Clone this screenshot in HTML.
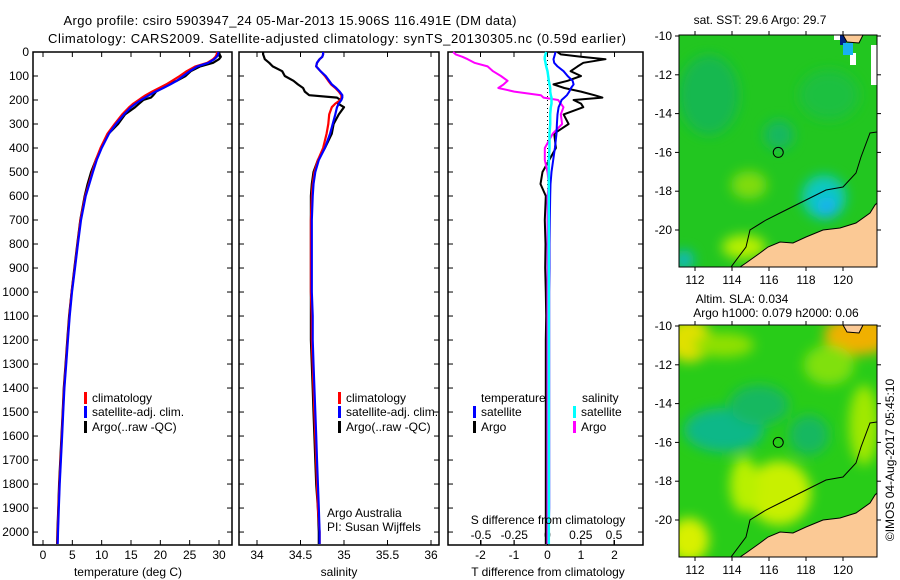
<!DOCTYPE html>
<html><head><meta charset="utf-8"><style>
html,body{margin:0;padding:0;background:#fff;}
svg{display:block;font-family:"Liberation Sans",sans-serif;}
</style></head><body>
<svg id="fig" width="900" height="580" viewBox="0 0 900 580">
<defs>
<filter id="blur1" x="-20%" y="-20%" width="140%" height="140%"><feGaussianBlur stdDeviation="6"/></filter>
<clipPath id="clipM1"><rect x="0" y="0" width="198" height="232"/></clipPath>
</defs>
<text x="290" y="25" font-size="13" text-anchor="middle" textLength="453">Argo profile: csiro 5903947_24 05-Mar-2013 15.906S 116.491E (DM data)</text>
<text x="337" y="43" font-size="13" text-anchor="middle" textLength="578">Climatology: CARS2009. Satellite-adjusted climatology: synTS_20130305.nc (0.59d earlier)</text>
<g id="p1"></g>
<g id="p2"></g>
<g id="p3"></g>
<g id="m1" transform="translate(679,35)"></g>
<g id="m2" transform="translate(679,325)"></g>
<text x="760" y="24" font-size="12" text-anchor="middle">sat. SST: 29.6 Argo: 29.7</text>
<text x="742" y="303" font-size="12" text-anchor="middle">Altim. SLA: 0.034</text>
<text x="776" y="317" font-size="12" text-anchor="middle">Argo h1000: 0.079 h2000: 0.06</text>
<text transform="translate(894,460) rotate(-90)" font-size="12" text-anchor="middle">©IMOS 04-Aug-2017 05:45:10</text>
</svg>
<script>
const depth=[0,10,20,30,45,60,80,100,120,135,150,165,180,190,200,215,230,260,300,340,400,450,500,550,600,700,800,900,1000,1100,1200,1300,1400,1500,1600,1700,1800,1900,2000,2050];
const tempClim=[29.7,29.6,29.4,29.0,28.0,26.0,24.5,23.3,22.0,21.0,19.8,18.6,17.5,16.9,16.3,15.4,14.7,13.5,12.2,11.0,9.8,9.0,8.4,7.8,7.2,6.4,5.9,5.4,4.9,4.5,4.2,3.9,3.6,3.4,3.2,3.0,2.8,2.65,2.5,2.45];
const tempSat=[29.9,29.85,29.6,29.2,28.2,26.3,25.0,23.9,22.8,21.7,20.5,19.2,18.1,17.4,16.7,15.8,15.0,13.8,12.45,11.25,10.0,9.15,8.5,7.9,7.28,6.47,5.95,5.45,4.95,4.55,4.25,3.95,3.65,3.45,3.25,3.05,2.85,2.7,2.55,2.5];
const tempArgo=[30.0,30.1,30.3,30.0,29.0,26.8,25.2,24.3,22.8,21.2,20.4,19.3,18.8,18.4,17.1,16.4,15.7,14.0,12.8,11.2,9.9,9.0,8.2,7.6,7.1,6.35,5.85,5.35,4.88,4.45,4.15,3.85,3.55,3.35,3.15,2.95,2.75,2.6,2.45,2.4];
const salClim=[34.76,34.76,34.75,34.72,34.69,34.68,34.73,34.78,34.82,34.85,34.9,34.94,34.97,34.97,34.96,34.9,34.86,34.83,34.82,34.8,34.76,34.7,34.66,34.64,34.63,34.62,34.62,34.62,34.62,34.63,34.63,34.64,34.65,34.66,34.67,34.68,34.69,34.7,34.72,34.72];
const salSat=[34.76,34.76,34.75,34.72,34.69,34.68,34.73,34.79,34.83,34.86,34.91,34.95,34.98,34.98,34.97,34.94,34.92,34.9,34.87,34.84,34.78,34.71,34.67,34.65,34.64,34.63,34.63,34.63,34.63,34.64,34.64,34.65,34.66,34.67,34.68,34.69,34.7,34.71,34.72,34.72];
const salArgo=[34.07,34.07,34.08,34.09,34.14,34.18,34.29,34.32,34.42,34.47,34.53,34.55,34.6,34.92,34.96,34.93,35.0,34.94,34.88,34.86,34.78,34.7,34.65,34.63,34.62,34.62,34.62,34.62,34.62,34.62,34.62,34.63,34.64,34.65,34.66,34.67,34.68,34.7,34.71,34.71];
const tDiffSat=[0.24,0.22,0.2,0.18,0.2,0.3,0.48,0.6,0.75,0.78,0.7,0.65,0.58,0.5,0.42,0.38,0.33,0.3,0.28,0.27,0.22,0.17,0.12,0.09,0.08,0.07,0.06,0.06,0.05,0.05,0.05,0.05,0.05,0.05,0.05,0.05,0.05,0.05,0.04,0.04];
const tDiffArgo=[0.3,0.4,1.0,1.73,1.07,0.9,0.69,1.0,0.6,0.18,0.5,1.0,1.4,1.64,0.78,1.0,1.07,0.48,0.63,0.2,0.25,0.05,-0.15,-0.21,-0.05,-0.08,-0.06,-0.07,-0.05,-0.04,-0.05,-0.05,-0.05,-0.05,-0.05,-0.05,-0.05,-0.05,-0.05,-0.05];
const sDiffArgo=[-0.71,-0.69,-0.64,-0.6,-0.55,-0.45,-0.41,-0.35,-0.3,-0.33,-0.37,-0.25,-0.05,-0.03,0.08,0.1,0.12,0.1,0.11,0.04,-0.02,-0.02,0.0,0.01,0.0,0.0,0.0,0.0,0.0,0.0,0.0,0.0,0.0,0.0,0.0,0.0,0.0,0.0,0.0,0.0];
const sDiffSat=[-0.01,-0.015,-0.02,-0.02,-0.015,-0.01,0.0,0.005,0.01,0.015,0.02,0.02,0.025,0.03,0.03,0.03,0.025,0.02,0.02,0.015,0.015,0.01,0.01,0.01,0.01,0.01,0.01,0.01,0.01,0.01,0.01,0.01,0.01,0.01,0.01,0.01,0.01,0.01,0.01,0.01];
const depthTicks=[0,100,200,300,400,500,600,700,800,900,1000,1100,1200,1300,1400,1500,1600,1700,1800,1900,2000];
const tempTicks=[0,5,10,15,20,25,30];
const salTicks=[34,34.5,35,35.5,36];
const tdTicks=[-2,-1,0,1,2];
const sdTicks=[-0.5,-0.25,0,0.25,0.5];
const sdTickLabels=["-0.5","-0.25","0","0.25","0.5"];
const latTicks=[-10,-12,-14,-16,-18,-20];
const lonTicks=[112,114,116,118,120];

const NS="http://www.w3.org/2000/svg";
function mk(parent,tag,attrs,text){const e=document.createElementNS(NS,tag);for(const k in attrs)e.setAttribute(k,attrs[k]);if(text!==undefined)e.textContent=text;parent.appendChild(e);return e;}
const TOP=52,BOT=545;
const yScale=d=>TOP+(d-0)*(BOT-TOP)/2054;
function lin(d0,d1,r0,r1){return v=>r0+(v-d0)*(r1-r0)/(d1-d0);}

function frame(g,L,R,name){
  const r=mk(g,'rect',{x:L,y:TOP,width:R-L,height:BOT-TOP,fill:'none',stroke:'#000','stroke-width':1.5});
  
  
}
function yTicks(g,L,R,labels){
  depthTicks.forEach(d=>{const y=yScale(d);
    mk(g,'line',{x1:L,x2:L+5,y1:y,y2:y,stroke:'#000'});
    mk(g,'line',{x1:R-5,x2:R,y1:y,y2:y,stroke:'#000'});
    if(labels){const t=mk(g,'text',{x:L-4,y:y+4,'font-size':12,'text-anchor':'end'},String(d));
      
      }
  });
}
function xTicks(g,ticks,sx,labelY,labels){
  ticks.forEach((v,i)=>{const x=sx(v);
    mk(g,'line',{x1:x,x2:x,y1:TOP,y2:TOP+5,stroke:'#000'});
    mk(g,'line',{x1:x,x2:x,y1:BOT-5,y2:BOT,stroke:'#000'});
    const t=mk(g,'text',{x:x,y:labelY,'font-size':12,'text-anchor':'middle'},labels?labels[i]:String(v));
    
    
  });
}
function line(g,vals,sx,color,w,name){
  const d=vals.map((v,i)=>(i?'L':'M')+sx(v).toFixed(1)+' '+yScale(depth[i]).toFixed(1)).join(' ');
  const p=mk(g,'path',{d:d,fill:'none',stroke:color,'stroke-width':w,'stroke-linejoin':'round'});
  
  
}
function legend(g,x,y,color,label,name){
  mk(g,'rect',{x:x,y:y-6,width:3,height:12,fill:color});
  const t=mk(g,'text',{x:x+8,y:y+4,'font-size':12},label);
  
  
}
// Panel 1
const p1=document.getElementById('p1');
const sxT=lin(0,30,43,219);
frame(p1,33,232,'temperature-panel');
yTicks(p1,33,232,true);
xTicks(p1,tempTicks,sxT,559);
line(p1,tempArgo,sxT,'#000',2.2,'argo-temperature-line');
line(p1,tempClim,sxT,'#f00',2.2,'climatology-temperature-line');
line(p1,tempSat,sxT,'#00f',2.2,'satellite-temperature-line');
legend(p1,84,398,'#f00','climatology','legend-climatology');
legend(p1,84,412,'#00f','satellite-adj. clim.','legend-satellite');
legend(p1,84,427,'#000','Argo(..raw -QC)','legend-argo');
mk(p1,'text',{x:128,y:576,'font-size':12,'text-anchor':'middle'},'temperature (deg C)');
// Panel 2
const p2=document.getElementById('p2');
const sxS=lin(34,36,257,431);
frame(p2,239,439,'salinity-panel');
yTicks(p2,239,439,false);
xTicks(p2,salTicks,sxS,559);
line(p2,salArgo,sxS,'#000',2.2,'argo-salinity-line');
line(p2,salClim,sxS,'#f00',2.2,'climatology-salinity-line');
line(p2,salSat,sxS,'#00f',2.2,'satellite-salinity-line');
legend(p2,338,398,'#f00','climatology','legend-climatology-s');
legend(p2,338,412,'#00f','satellite-adj. clim.','legend-satellite-s');
legend(p2,338,427,'#000','Argo(..raw -QC)','legend-argo-s');
mk(p2,'text',{x:327,y:517,'font-size':12},'Argo Australia');
mk(p2,'text',{x:327,y:531,'font-size':12},'PI: Susan Wijffels');
mk(p2,'text',{x:339,y:576,'font-size':12,'text-anchor':'middle'},'salinity');
// Panel 3
const p3=document.getElementById('p3');
const sxTD=lin(-2,2,480.5,614.5);
const sxSD=lin(-0.5,0.5,481,614);
frame(p3,448,643,'difference-panel');
yTicks(p3,448,643,false);
xTicks(p3,tdTicks,sxTD,559);
sdTicks.forEach((v,i)=>{const x=sxSD(v);mk(p3,'line',{x1:x,x2:x,y1:BOT-5,y2:BOT,stroke:'#000'});
  const t=mk(p3,'text',{x:x,y:539,'font-size':12,'text-anchor':'middle'},sdTickLabels[i]);
  
  });
mk(p3,'line',{x1:sxTD(0),x2:sxTD(0),y1:TOP,y2:BOT,stroke:'#000','stroke-dasharray':'1 3'});
line(p3,tDiffArgo,sxTD,'#000',2,'argo-temp-diff-line');
line(p3,sDiffArgo,sxSD,'#f0f',2,'argo-sal-diff-line');
line(p3,tDiffSat,sxTD,'#00f',2,'sat-temp-diff-line');
line(p3,sDiffSat,sxSD,'#0ff',2.5,'sat-sal-diff-line');
mk(p3,'text',{x:481,y:402,'font-size':12},'temperature');
mk(p3,'text',{x:582,y:402,'font-size':12},'salinity');
legend(p3,473,412,'#00f','satellite','legend-temp-satellite');
legend(p3,473,427,'#000','Argo','legend-temp-argo');
legend(p3,573,412,'#0ff','satellite','legend-sal-satellite');
legend(p3,573,427,'#f0f','Argo','legend-sal-argo');
mk(p3,'text',{x:548,y:524,'font-size':12,'text-anchor':'middle'},'S difference from climatology');
mk(p3,'text',{x:548,y:576,'font-size':12,'text-anchor':'middle'},'T difference from climatology');

// Maps
const lonX=lin(112,120,16,164), latY=lin(-10,-20,1,195);
const land="M61,232 L67,228 L81,218 L89,212 L101,207 L114,208 L127,202 L144,195 L161,193 L177,188 L191,178 L196,170 L198,168 L198,232 Z";
const landTop="M164,0 L168,7 L180,8 L184,0 Z";
const contour="M52,232 L67,212 L71,195 L87,185 L101,178 L127,165 L147,155 L164,152 L177,138 L182,122 L191,98 L198,97";
function map(id,base,blobs,extra){
  const g=document.getElementById(id);
  const inner=mk(g,'g',{'clip-path':'url(#clipM1)'});
  mk(inner,'rect',{x:0,y:0,width:198,height:232,fill:base});
  const bg=mk(inner,'g',{filter:'url(#blur1)'});
  blobs.forEach(b=>mk(bg,'ellipse',{cx:b[0],cy:b[1],rx:b[2],ry:b[3],fill:b[4]}));
  if(extra)extra(inner);
  mk(inner,'path',{d:land,fill:'#fbc995',stroke:'#000','stroke-width':1});
  mk(inner,'path',{d:landTop,fill:'#fbc995',stroke:'#000','stroke-width':1});
  mk(inner,'path',{d:contour,fill:'none',stroke:'#000','stroke-width':1});
  const c=mk(g,'circle',{cx:lonX(116.5),cy:latY(-16),r:5,fill:'none',stroke:'#000'});
  
  
  mk(g,'rect',{x:0,y:0,width:198,height:232,fill:'none',stroke:'#000'});
  latTicks.forEach(v=>{const y=latY(v);mk(g,'line',{x1:0,x2:-4,y1:y,y2:y,stroke:'#000'});mk(g,'line',{x1:198,x2:202,y1:y,y2:y,stroke:'#000'});
    const t=mk(g,'text',{x:-7,y:y+4,'font-size':12,'text-anchor':'end'},String(v));
    
    });
  lonTicks.forEach(v=>{const x=lonX(v);mk(g,'line',{x1:x,x2:x,y1:0,y2:-4,stroke:'#000'});mk(g,'line',{x1:x,x2:x,y1:232,y2:236,stroke:'#000'});
    const t=mk(g,'text',{x:x,y:249,'font-size':12,'text-anchor':'middle'},String(v));
    
    });
}
map('m1','#22c620',[[30,60,30,40,'#18b850'],[150,60,30,25,'#1cc040'],[145,162,22,22,'#10c8c0'],[148,172,10,10,'#18b0f0'],[70,150,18,14,'#80dc10'],[65,212,22,12,'#b8f000'],[5,225,10,10,'#10b8c0'],[100,100,15,15,'#18b860']],
 function(g){mk(g,'path',{d:"M120,210 L150,200 L175,200 L198,185 L198,200 L140,215 Z",fill:'#fff'});
  mk(g,'rect',{x:155,y:0,width:12,height:5,fill:'#fff'});
  mk(g,'rect',{x:171,y:18,width:6,height:12,fill:'#fff'});
  mk(g,'rect',{x:192,y:10,width:6,height:40,fill:'#fff'});
  mk(g,'rect',{x:161,y:0,width:6,height:10,fill:'#002080'});
  mk(g,'rect',{x:164,y:8,width:10,height:12,fill:'#18b0f0'});});
map('m2','#28cc18',[[45,105,40,22,'#10b888'],[80,80,30,20,'#18b860'],[100,168,32,32,'#c8f000'],[65,160,14,28,'#b8f000'],[180,10,35,20,'#f0b000'],[10,15,22,22,'#e0e000'],[10,215,20,22,'#d8f000'],[185,100,15,40,'#a0e800'],[150,40,25,20,'#80e010'],[130,110,20,20,'#18b860'],[45,20,30,12,'#90e000']]);
</script>
</body></html>
